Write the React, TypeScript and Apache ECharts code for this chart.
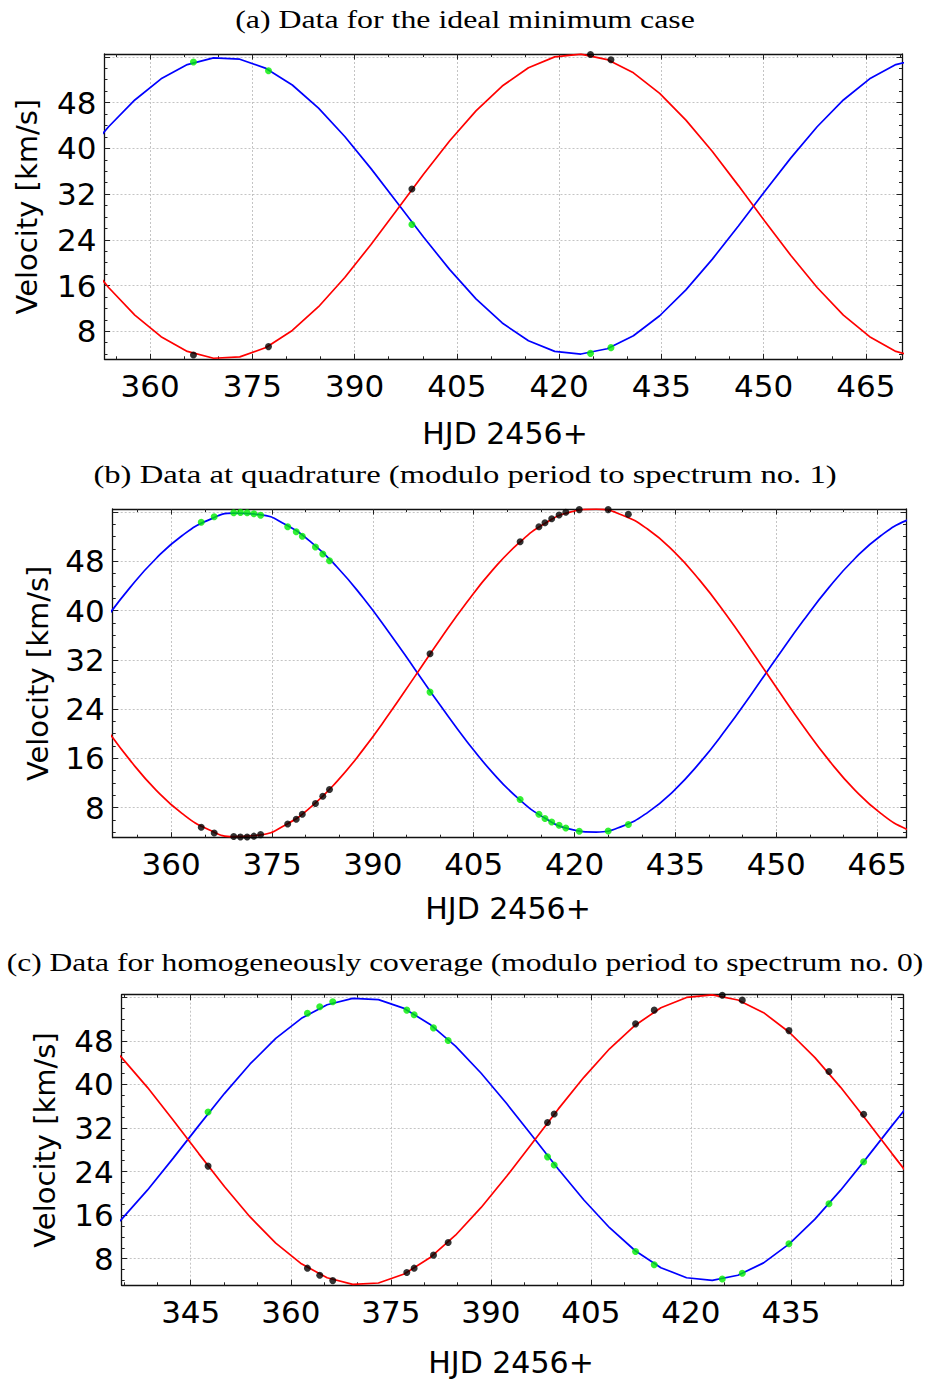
import React, { useEffect, useRef } from "react";
import * as echarts from "echarts";

// Radial-velocity model curves (sampled), shared by all three panels
const curveTimes = [330.8, 334.65, 338.5, 342.35, 346.2, 350.05, 353.9, 357.75, 361.6, 365.45, 369.3, 373.15, 377.0, 380.85, 384.7, 388.55, 392.4, 396.25, 400.1, 403.95, 407.8, 411.65, 415.5, 419.35, 423.2, 427.05, 430.9, 434.75, 438.6, 442.45, 446.3, 450.15, 454.0, 457.85, 461.7, 465.55, 469.4, 473.25];
const primaryVelocity = [10.72, 15.25, 20.58, 26.42, 32.44, 38.33, 43.77, 48.46, 52.16, 54.65, 55.82, 55.59, 53.98, 51.08, 47.04, 42.07, 36.45, 30.48, 24.48, 18.78, 13.68, 9.45, 6.34, 4.49, 4.02, 4.94, 7.22, 10.72, 15.25, 20.58, 26.42, 32.44, 38.33, 43.77, 48.46, 52.16, 54.65, 55.82];
const secondaryVelocity = [49.6, 44.94, 39.48, 33.48, 27.3, 21.25, 15.66, 10.84, 7.05, 4.48, 3.28, 3.52, 5.17, 8.15, 12.3, 17.41, 23.18, 29.31, 35.47, 41.32, 46.56, 50.9, 54.1, 56.0, 56.48, 55.53, 53.2, 49.6, 44.94, 39.48, 33.48, 27.3, 21.25, 15.66, 10.84, 7.05, 4.48, 3.28];

// (a) ideal minimum case
const timesA = [366.35, 377.36, 398.4, 424.6, 427.6];
const greenA = [55.1, 53.56, 26.67, 4.14, 5.14];
const blackA = [3.86, 5.32, 32.9, 56.4, 55.5];

// (b) quadrature
const timesB = [364.47, 366.4, 369.3, 370.3, 371.3, 372.3, 373.3, 377.33, 378.6, 379.5, 381.46, 382.55, 383.55, 398.5, 411.9, 414.7, 415.6, 416.6, 417.7, 418.7, 420.7, 425.0, 428.0];
const greenB = [54.34, 55.25, 55.9, 55.95, 55.9, 55.74, 55.48, 53.63, 52.8, 52.06, 50.33, 49.19, 48.1, 26.75, 9.3, 6.91, 6.21, 5.66, 5.12, 4.68, 4.15, 4.2, 5.24];
const blackB = [4.8, 3.87, 3.29, 3.2, 3.2, 3.35, 3.6, 5.33, 6.1, 6.9, 8.65, 9.84, 10.93, 32.98, 51.19, 53.63, 54.28, 54.93, 55.53, 55.96, 56.4, 56.4, 55.64];

// (c) homogeneous coverage
const timesC = [347.6, 362.5, 364.35, 366.3, 377.4, 378.5, 381.4, 383.6, 398.5, 399.5, 411.7, 414.5, 424.7, 427.7, 434.7, 440.7, 445.9];
const greenC = [34.96, 53.1, 54.27, 55.2, 53.66, 52.8, 50.4, 48.1, 26.7, 25.2, 9.3, 6.86, 4.27, 5.3, 10.73, 18.1, 25.8];
const blackC = [25.0, 6.25, 4.95, 3.96, 5.44, 6.25, 8.64, 10.97, 33.0, 34.59, 51.14, 53.66, 56.4, 55.5, 49.9, 42.4, 34.53];

// ticks
const xMajorTicksAB = [360, 375, 390, 405, 420, 435, 450, 465];
const xMajorTicksC = [345, 360, 375, 390, 405, 420, 435, 450];
const xLabelsC = [345, 360, 375, 390, 405, 420, 435];
const xMinorTicks = [335, 340, 345, 350, 355, 360, 365, 370, 375, 380, 385, 390, 395, 400, 405, 410, 415, 420, 425, 430, 435, 440, 445, 450, 455, 460, 465, 470];
const yMajorTicks = [8, 16, 24, 32, 40, 48, 56];
const yLabels = [8, 16, 24, 32, 40, 48];
const yMinorTicks = [4, 6, 8, 10, 12, 14, 16, 18, 20, 22, 24, 26, 28, 30, 32, 34, 36, 38, 40, 42, 44, 46, 48, 50, 52, 54, 56];

const titleA = "(a) Data for the ideal minimum case";
const titleB = "(b) Data at quadrature (modulo period to spectrum no. 1)";
const titleC = "(c) Data for homogeneously coverage (modulo period to spectrum no. 0)";
const yName = "Velocity [km/s]";
const xName = "HJD 2456+";

const Y_MIN = 3.1;
const Y_MAX = 56.5;

const panels = [
  { left: 104.5, top: 54, width: 797.5, height: 305.3, xMin: 353.3, xMax: 470.3, smooth: false, times: timesA, green: greenA, black: blackA, xTicks: xMajorTicksAB, xLabels: xMajorTicksAB, title: titleA, titleY: 19, titleScale: 1.225, velX: 27, hjdX: 505, hjdY: 433 },
  { left: 112.7, top: 509, width: 793.3, height: 328.7, xMin: 351.3, xMax: 469.3, smooth: true, times: timesB, green: greenB, black: blackB, xTicks: xMajorTicksAB, xLabels: xMajorTicksAB, title: titleB, titleY: 474, titleScale: 1.256, velX: 38, hjdX: 508, hjdY: 908 },
  { left: 121.7, top: 994.7, width: 781.3, height: 290.6, xMin: 334.65, xMax: 451.8, smooth: false, times: timesC, green: greenC, black: blackC, xTicks: xMajorTicksC, xLabels: xLabelsC, title: titleC, titleY: 962, titleScale: 1.213, velX: 45, hjdX: 511, hjdY: 1362 },
];

const AXIS_LINE = { color: "#111", width: 1.3 };
const TICK_LINE = { color: "#222", width: 1 };
const SPLIT = { color: "#bdbdbd", width: 0.9, type: [2, 2] as any };
const LABEL_FONT = { fontSize: 31, fontFamily: "DejaVu Sans", color: "#000" };

function buildOption() {
  const grid: any[] = [];
  const xAxis: any[] = [];
  const yAxis: any[] = [];
  const series: any[] = [];
  const graphic: any[] = [];

  panels.forEach((p, i) => {
    grid.push({ left: p.left, top: p.top, width: p.width, height: p.height, containLabel: false, outerBoundsMode: "none", show: false });
    const xBase = { type: "value", gridIndex: i, min: p.xMin, max: p.xMax, splitLine: { show: false }, axisLabel: { show: false } };
    xAxis.push({
      ...xBase, position: "bottom",
      axisLine: { show: true, onZero: false, lineStyle: AXIS_LINE },
      axisTick: { show: true, inside: true, length: 5.5, customValues: p.xTicks, lineStyle: TICK_LINE },
      axisLabel: { show: true, customValues: p.xLabels, margin: 11, ...LABEL_FONT },
      splitLine: { show: true, lineStyle: SPLIT },
    });
    xAxis.push({ ...xBase, position: "bottom", axisLine: { show: false, onZero: false }, axisTick: { show: true, inside: true, length: 3, customValues: xMinorTicks, lineStyle: TICK_LINE } });
    xAxis.push({ ...xBase, position: "top", axisLine: { show: true, onZero: false, lineStyle: AXIS_LINE }, axisTick: { show: true, inside: true, length: 5.5, customValues: p.xTicks, lineStyle: TICK_LINE } });
    xAxis.push({ ...xBase, position: "top", axisLine: { show: false, onZero: false }, axisTick: { show: true, inside: true, length: 3, customValues: xMinorTicks, lineStyle: TICK_LINE } });

    const yBase = { type: "value", gridIndex: i, min: Y_MIN, max: Y_MAX, splitLine: { show: false }, axisLabel: { show: false } };
    yAxis.push({
      ...yBase, position: "left",
      axisLine: { show: true, onZero: false, lineStyle: AXIS_LINE },
      axisTick: { show: true, inside: true, length: 5.5, customValues: yMajorTicks, lineStyle: TICK_LINE },
      axisLabel: { show: true, customValues: yLabels, margin: 8, ...LABEL_FONT },
      splitLine: { show: true, lineStyle: SPLIT },
    });
    yAxis.push({ ...yBase, position: "left", axisLine: { show: false, onZero: false }, axisTick: { show: true, inside: true, length: 3, customValues: yMinorTicks, lineStyle: TICK_LINE } });
    yAxis.push({ ...yBase, position: "right", axisLine: { show: true, onZero: false, lineStyle: AXIS_LINE }, axisTick: { show: true, inside: true, length: 5.5, customValues: yMajorTicks, lineStyle: TICK_LINE } });
    yAxis.push({ ...yBase, position: "right", axisLine: { show: false, onZero: false }, axisTick: { show: true, inside: true, length: 3, customValues: yMinorTicks, lineStyle: TICK_LINE } });

    const xi = i * 4;
    const yi = i * 4;
    series.push({
      type: "line", xAxisIndex: xi, yAxisIndex: yi, data: curveTimes.map((t, k) => [t, primaryVelocity[k]]),
      showSymbol: false, symbol: "none", smooth: p.smooth, lineStyle: { color: "#0000ff", width: 1.7 }, z: 2, silent: true,
    });
    series.push({
      type: "line", xAxisIndex: xi, yAxisIndex: yi, data: curveTimes.map((t, k) => [t, secondaryVelocity[k]]),
      showSymbol: false, symbol: "none", smooth: p.smooth, lineStyle: { color: "#ff0000", width: 1.7 }, z: 2, silent: true,
    });
    series.push({
      type: "scatter", xAxisIndex: xi, yAxisIndex: yi, data: p.times.map((t, k) => [t, p.green[k]]),
      symbolSize: 7, itemStyle: { color: "#00ee00" }, z: 3, clip: false, silent: true,
    });
    series.push({
      type: "scatter", xAxisIndex: xi, yAxisIndex: yi, data: p.times.map((t, k) => [t, p.black[k]]),
      symbolSize: 7, itemStyle: { color: "#000000" }, z: 3, clip: false, silent: true,
    });

    graphic.push({
      type: "text", x: 465, y: p.titleY, scaleX: p.titleScale, silent: true,
      style: { text: p.title, fontSize: 26, fontFamily: "Liberation Serif", fill: "#000", align: "center", verticalAlign: "middle", textAlign: "center", textVerticalAlign: "middle" },
    });
    graphic.push({
      type: "text", x: p.velX, y: p.top + p.height / 2, rotation: Math.PI / 2, silent: true,
      style: { text: yName, fontSize: 29, fontFamily: "DejaVu Sans", fill: "#000", align: "center", verticalAlign: "middle", textAlign: "center", textVerticalAlign: "middle" },
    });
    graphic.push({
      type: "text", x: p.hjdX, y: p.hjdY, silent: true,
      style: { text: xName, fontSize: 30, fontFamily: "DejaVu Sans", fill: "#000", align: "center", verticalAlign: "middle", textAlign: "center", textVerticalAlign: "middle" },
    });
  });

  return { animation: false, backgroundColor: "#fff", grid, xAxis, yAxis, series, graphic };
}

export default function App() {
  const ref = useRef<HTMLDivElement>(null);
  useEffect(() => {
    if (!ref.current) return;
    const chart = echarts.init(ref.current, undefined, { renderer: "svg" });
    chart.setOption(buildOption() as any);
    return () => chart.dispose();
  }, []);
  return <div ref={ref} style={{ position: "absolute", left: 0, top: 0, width: 927, height: 1380, background: "#fff" }} />;
}
